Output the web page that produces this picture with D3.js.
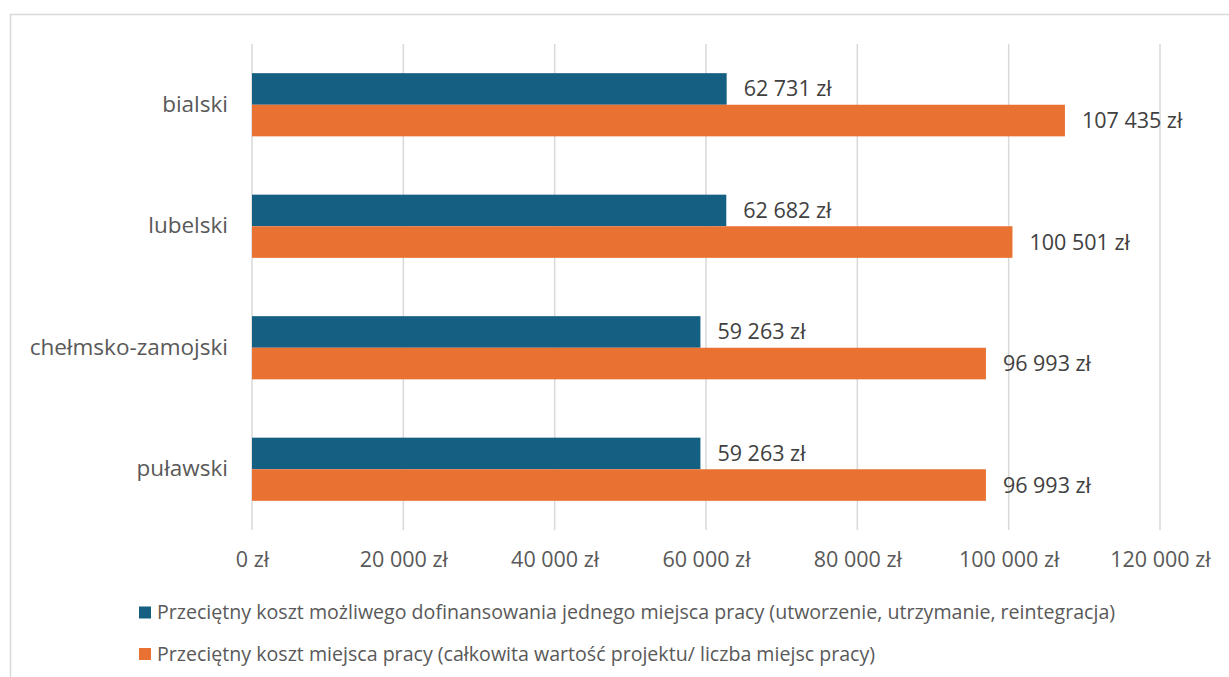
<!DOCTYPE html>
<html>
<head>
<meta charset="utf-8">
<script src="https://cdn.jsdelivr.net/npm/d3@7"></script>
<style>
  body { margin: 0; background: #fff; }
  svg text { font-family: "Open Sans", "Noto Sans", sans-serif; }
</style>
</head>
<body>
<svg width="1229" height="677"></svg>
<script>
// **** data ****
var regions = ['bialski', 'lubelski', 'chełmsko-zamojski', 'puławski'];
var cofinancing = [62731, 62682, 59263, 59263];
var totalCost = [107435, 100501, 96993, 96993];
var xTicks = [0, 20000, 40000, 60000, 80000, 100000, 120000];
var seriesNames = [
    'Przeciętny koszt możliwego dofinansowania jednego miejsca pracy (utworzenie, utrzymanie, reintegracja)',
    'Przeciętny koszt miejsca pracy (całkowita wartość projektu/ liczba miejsc pracy)'
];
var colors = ['#156082', '#E97132'];

function fmt(v) {
    return d3.format(',')(v).replace(/,/g, ' ') + ' zł';
}

var svg = d3.select('svg');

// chart border
svg.append('rect')
    .attr('x', 10.5).attr('y', 14.5)
    .attr('width', 1240).attr('height', 700)
    .attr('fill', 'none').attr('stroke', '#d9d9d9').attr('stroke-width', 1.5);

// **** scales ****
var xScale = d3.scaleLinear().domain([0, 120000]).range([252, 1160]);
var yScale = d3.scaleBand().domain(regions).range([44, 530]).paddingInner(0.48).paddingOuter(0.24);
var subScale = d3.scaleBand().domain([0, 1]).range([0, yScale.bandwidth()]);

// gridlines
svg.append('g').selectAll('line')
    .data(xTicks)
    .enter().append('line')
    .attr('x1', function(d) { return xScale(d); })
    .attr('x2', function(d) { return xScale(d); })
    .attr('y1', 44).attr('y2', 530)
    .attr('stroke', '#d9d9d9').attr('stroke-width', 1.5);

// x axis labels
var xAxis = svg.append('g')
    .attr('transform', 'translate(0,530)')
    .call(d3.axisBottom(xScale).tickValues(xTicks).tickFormat(fmt).tickSize(0).tickPadding(22));
xAxis.select('.domain').remove();
xAxis.selectAll('text')
    .attr('fill', '#595959')
    .style('font-size', '21.5px');

// y axis labels
var yAxis = svg.append('g')
    .attr('transform', 'translate(252,0)')
    .call(d3.axisLeft(yScale).tickSize(0).tickPadding(24));
yAxis.select('.domain').remove();
yAxis.selectAll('text')
    .attr('fill', '#595959')
    .style('font-size', '22.5px');

// **** bars ****
var series = [cofinancing, totalCost];

series.forEach(function(values, s) {
    var g = svg.append('g');
    g.selectAll('rect')
        .data(values)
        .enter().append('rect')
        .attr('x', xScale(0))
        .attr('y', function(d, i) { return yScale(regions[i]) + subScale(s); })
        .attr('width', function(d) { return xScale(d) - xScale(0); })
        .attr('height', subScale.bandwidth())
        .attr('fill', colors[s]);

    g.selectAll('text')
        .data(values)
        .enter().append('text')
        .attr('x', function(d) { return xScale(d) + 17; })
        .attr('y', function(d, i) { return yScale(regions[i]) + subScale(s) + subScale.bandwidth() / 2; })
        .attr('dy', '0.35em')
        .attr('fill', '#404040')
        .style('font-size', '21.5px')
        .text(fmt);
});

// **** legend ****
var legend = svg.append('g').selectAll('g')
    .data(seriesNames)
    .enter().append('g')
    .attr('transform', function(d, i) { return 'translate(139,' + (612.5 + i * 41.5) + ')'; });

legend.append('rect')
    .attr('x', 0).attr('y', -6)
    .attr('width', 12).attr('height', 12)
    .attr('fill', function(d, i) { return colors[i]; });

legend.append('text')
    .attr('x', 18).attr('dy', '0.35em')
    .attr('fill', '#595959')
    .style('font-size', '19.6px')
    .text(function(d) { return d; });
</script>
</body>
</html>
